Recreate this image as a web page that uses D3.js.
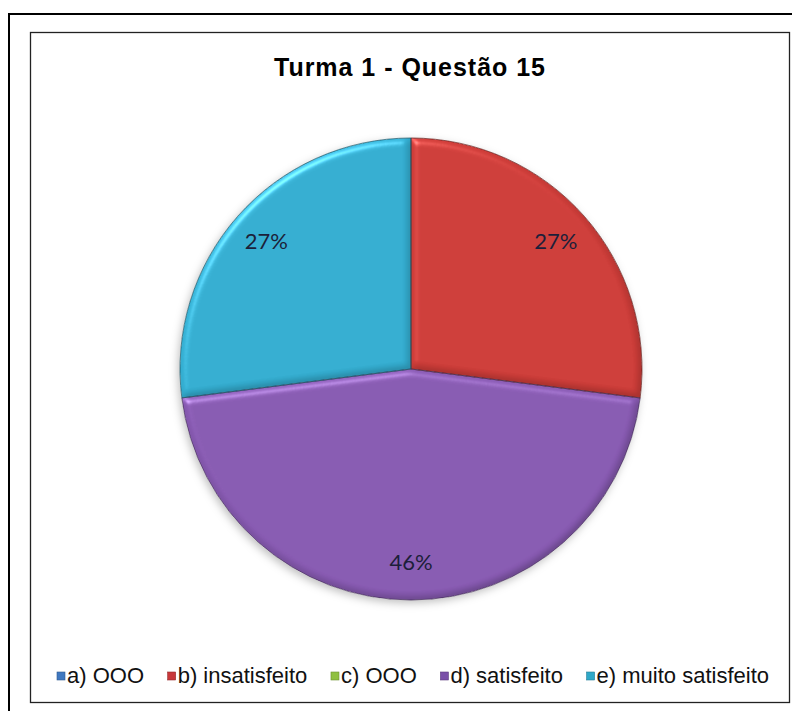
<!DOCTYPE html>
<html>
<head>
<meta charset="utf-8">
<script src="https://cdn.jsdelivr.net/npm/d3@7"></script>
<style>
  html, body { margin: 0; padding: 0; background: #fff; }
  svg { display: block; }
</style>
</head>
<body>
<svg id="chart" width="792" height="711"></svg>
<script>
// ---- data ----
const title = "Turma 1 - Questão 15";
const categories = ["a) OOO", "b) insatisfeito", "c) OOO", "d) satisfeito", "e) muito satisfeito"];
const values = [0, 27, 0, 46, 27];
const colors = ["#4F81BD", "#CC3C38", "#8659B0", "#8659B0", "#33ACCF"];
colors[2] = "#9BBB59";
const legendColors = ["#3F78C0", "#C8383A", "#8FC040", "#7A4FA8", "#2FA8C8"];

// ---- layout ----
const W = 792, H = 711;
const cx = 411, cy = 369, R = 231;
const labelR = 193;

const svg = d3.select("#chart");
const defs = svg.append("defs");

// bevel filter
const bevel = defs.append("filter").attr("id", "bevel")
  .attr("color-interpolation-filters", "sRGB")
  .attr("x", "-5%").attr("y", "-5%").attr("width", "110%").attr("height", "110%");
bevel.append("feGaussianBlur").attr("in", "SourceAlpha").attr("stdDeviation", 3.5).attr("result", "blur");
const spec = bevel.append("feSpecularLighting").attr("in", "blur")
  .attr("surfaceScale", 4).attr("specularConstant", 0.6).attr("specularExponent", 30)
  .attr("lighting-color", "#ffffff").attr("result", "spec");
spec.append("feDistantLight").attr("azimuth", 235).attr("elevation", 40);
bevel.append("feComposite").attr("in", "spec").attr("in2", "SourceAlpha").attr("operator", "in").attr("result", "specIn");
const diff = bevel.append("feDiffuseLighting").attr("in", "blur")
  .attr("surfaceScale", 4).attr("diffuseConstant", 1).attr("lighting-color", "#ffffff").attr("result", "diff");
diff.append("feDistantLight").attr("azimuth", 235).attr("elevation", 55);
bevel.append("feComposite").attr("in", "SourceGraphic").attr("in2", "diff").attr("operator", "arithmetic")
  .attr("k1", 0.3).attr("k2", 0.75).attr("k3", 0).attr("k4", 0).attr("result", "lit");
bevel.append("feComposite").attr("in", "lit").attr("in2", "SourceAlpha").attr("operator", "in").attr("result", "litIn");
bevel.append("feComposite").attr("in", "specIn").attr("in2", "litIn").attr("operator", "arithmetic")
  .attr("k1", 0).attr("k2", 0.5).attr("k3", 1).attr("k4", 0).attr("result", "sum");
bevel.append("feComposite").attr("in", "sum").attr("in2", "SourceAlpha").attr("operator", "in");

// soft shadow
const shadow = defs.append("filter").attr("id", "shadow")
  .attr("x", "-10%").attr("y", "-10%").attr("width", "120%").attr("height", "120%");
shadow.append("feDropShadow").attr("dx", -2).attr("dy", 3).attr("stdDeviation", 4)
  .attr("flood-color", "#000").attr("flood-opacity", 0.25);

// background
svg.append("rect").attr("width", W).attr("height", H).attr("fill", "#fff");

// outer frame
svg.append("rect").attr("x", 9).attr("y", 14).attr("width", 820).attr("height", 740)
  .attr("fill", "none").attr("stroke", "#000").attr("stroke-width", 2);
// inner chart area frame
svg.append("rect").attr("x", 30.5).attr("y", 32.5).attr("width", 759).attr("height", 670)
  .attr("fill", "#fff").attr("stroke", "#222").attr("stroke-width", 1.3);

// title
svg.append("text")
  .attr("x", 409.5).attr("y", 76)
  .attr("text-anchor", "middle")
  .attr("font-family", "'Liberation Sans', Arial, sans-serif")
  .attr("font-weight", "bold")
  .attr("font-size", 25)
  .attr("textLength", 271)
  .attr("lengthAdjust", "spacing")
  .attr("fill", "#000")
  .text(title);

// pie
const data = categories.map((c, i) => ({ cat: c, value: values[i], color: colors[i] }));
const total = d3.sum(values);
const pie = d3.pie().sort(null).value(d => d.value).startAngle(0).endAngle(2 * Math.PI);
const arcs = pie(data).filter(a => a.data.value > 0);
const arc = d3.arc().innerRadius(0).outerRadius(R);
const labelArc = d3.arc().innerRadius(labelR).outerRadius(labelR);

const g = svg.append("g").attr("transform", `translate(${cx},${cy})`);
const shadowG = g.append("g").attr("filter", "url(#shadow)");
shadowG.selectAll("path.sh").data(arcs).join("path")
  .attr("class", "sh").attr("d", arc).attr("fill", "#fff");

g.selectAll("path.slice").data(arcs).join("path")
  .attr("class", "slice")
  .attr("d", arc)
  .attr("fill", d => d.data.color)
  .attr("filter", "url(#bevel)");

g.selectAll("path.edge").data(arcs).join("path")
  .attr("class", "edge")
  .attr("d", arc)
  .attr("fill", "none")
  .attr("stroke", d => d3.color(d.data.color).darker(1.8))
  .attr("stroke-opacity", 0.75)
  .attr("stroke-width", 1);

const pct = d3.format(".0%");
g.selectAll("text.lbl").data(arcs).join("text")
  .attr("class", "lbl")
  .attr("transform", d => `translate(${labelArc.centroid(d)})`)
  .attr("text-anchor", "middle")
  .attr("dy", "0.36em")
  .attr("font-family", "Lato, 'Open Sans', sans-serif")
  .attr("font-size", 22)
  .attr("fill", "#1c1f3a")
  .text(d => pct(d.data.value / total));

// legend
const legendFont = 22;
const sq = 8, sqGap = 2;
const legY = 683;
const lg = svg.append("g");
const items = lg.selectAll("g.item").data(categories).join("g").attr("class", "item");
items.append("rect")
  .attr("width", sq).attr("height", sq)
  .attr("y", legY - 11)
  .attr("fill", (d, i) => legendColors[i])
  .attr("stroke", (d, i) => d3.color(legendColors[i]).darker(0.8))
  .attr("stroke-width", 0.6);
items.append("text")
  .attr("x", sq + sqGap)
  .attr("y", legY)
  .attr("font-family", "'Liberation Sans', Arial, sans-serif")
  .attr("font-size", legendFont)
  .attr("fill", "#111")
  .text(d => d);
// position sequentially, spanning the reference legend width
let widths = [];
items.each(function() { widths.push(this.querySelector("text").getComputedTextLength() + sq + sqGap); });
const legL = 57, legRgt = 769;
const itemGap = ((legRgt - legL) - d3.sum(widths)) / (widths.length - 1);
let x = legL;
items.attr("transform", (d, i) => { const t = `translate(${x},0)`; x += widths[i] + itemGap; return t; });
</script>
</body>
</html>
